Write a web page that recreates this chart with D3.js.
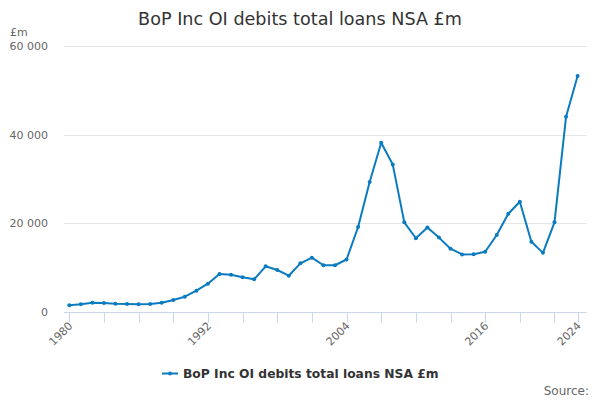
<!DOCTYPE html>
<html><head><meta charset="utf-8">
<script src="https://cdn.jsdelivr.net/npm/d3@7"></script>
<style>body{margin:0;background:#fff}svg{display:block;font-family:"DejaVu Sans",Verdana,sans-serif}</style>
</head><body><svg id="c" width="600" height="400"></svg>
<script>
const years = d3.range(1980, 2025);
const values = [1400,1630,1990,1920,1760,1700,1630,1700,1990,2600,3350,4700,6280,8470,8320,7730,7280,10210,9380,8090,10890,12160,10450,10450,11750,19100,29250,38150,33200,20150,16550,19000,16700,14200,12900,12950,13500,17300,22100,24800,15750,13250,20150,44000,53200];
const yTicks = [0,20000,40000,60000];
const xTicks = d3.range(1980, 2025, 3).concat([2024]);
const xLabels = [1980,1992,2004,2016,2024];
const title = "BoP Inc OI debits total loans NSA £m";
const seriesName = "BoP Inc OI debits total loans NSA £m";

const svg = d3.select("#c");
const x = d3.scaleLinear().domain([1980,2024]).range([69.3,577.6]);
const y = d3.scaleLinear().domain([0,60000]).range([311.5,46]);
const gridCol = "#e6e6e6", axisCol = "#ccd6eb", lineCol = "#0b7bc0";
const fmt = v => v === 0 ? "0" : d3.format(",")(v).replace(/,/g," ");

svg.append("text").attr("x",300).attr("y",25).attr("text-anchor","middle")
  .attr("font-size",17.6).attr("fill","#333").text(title);
svg.append("text").attr("x",10).attr("y",36).attr("font-size",11).attr("fill","#666").text("£m");

// gridlines
svg.append("g").selectAll("line").data(yTicks.filter(d=>d>0)).join("line")
  .attr("x1",64).attr("x2",586.5).attr("y1",d=>Math.round(y(d))+0.5).attr("y2",d=>Math.round(y(d))+0.5)
  .attr("stroke",gridCol).attr("stroke-width",1);
svg.append("g").selectAll("text").data(yTicks).join("text")
  .attr("x",48).attr("y",d=>y(d)+4).attr("text-anchor","end").attr("font-size",11).attr("fill","#666")
  .text(fmt);

// x axis
const gx = svg.append("g").attr("transform",`translate(0,${Math.round(y(0))+0.5})`);
gx.append("line").attr("x1",64).attr("x2",586.5).attr("stroke",axisCol);
gx.selectAll("line.t").data(xTicks).join("line").attr("class","t")
  .attr("x1",d=>Math.round(x(d))+0.5).attr("x2",d=>Math.round(x(d))+0.5).attr("y1",0).attr("y2",10)
  .attr("stroke",axisCol);
gx.selectAll("text").data(xLabels).join("text")
  .attr("transform",d=>`translate(${x(d)+4},${14}) rotate(-45)`)
  .attr("text-anchor","end").attr("font-size",11).attr("fill","#666").text(d=>d);

// line
const line = d3.line().x((d,i)=>x(years[i])).y(d=>y(d));
svg.append("path").datum(values).attr("d",line).attr("fill","none").attr("stroke",lineCol).attr("stroke-width",2).attr("stroke-linejoin","round");
svg.append("g").selectAll("circle").data(values).join("circle")
  .attr("cx",(d,i)=>x(years[i])).attr("cy",d=>y(d)).attr("r",2).attr("fill",lineCol);

// legend
const lg = svg.append("g");
lg.append("line").attr("x1",162).attr("x2",178).attr("y1",373.5).attr("y2",373.5).attr("stroke",lineCol).attr("stroke-width",2);
lg.append("circle").attr("cx",170).attr("cy",373.5).attr("r",2).attr("fill",lineCol);
lg.append("text").attr("x",183).attr("y",378).attr("font-size",12.3).attr("font-weight","bold").attr("fill","#333").text(seriesName);

svg.append("text").attr("x",589).attr("y",395).attr("text-anchor","end").attr("font-size",12).attr("fill","#666").text("Source:");
</script></body></html>
